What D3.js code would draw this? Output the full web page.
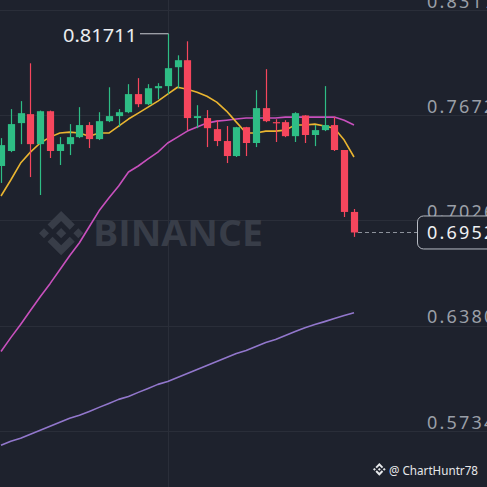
<!DOCTYPE html>
<html><head><meta charset="utf-8">
<script src="https://cdn.jsdelivr.net/npm/d3@7"></script>
<style>html,body{margin:0;padding:0;background:#1e222d;overflow:hidden}</style>
</head><body><svg id="c" width="487" height="487"></svg>
<script>
// ---- data ----
const candles = [0,1,2,3,4,5,6,7,8,9,10,11,12,13,14,15,16,17,18,19,20,21,22,23,24,25,26,27,28,29,30,31,32,33,34,35,36];
const open  = [.7360,.7452,.7623,.7678,.7494,.7696,.7452,.7494,.7537,.7611,.7525,.7635,.7666,.7690,.7801,.7739,.7837,.7850,.7966,.8009,.7654,.7654,.7586,.7513,.7421,.7598,.7501,.7715,.7629,.7629,.7543,.7670,.7550,.7580,.7611,.7458,.7078];
const high  = [.7531,.7709,.7758,.7990,.7700,.7700,.7537,.7617,.7721,.7629,.7690,.7843,.7709,.7862,.7899,.7862,.7868,.81711,.8039,.8125,.7733,.7703,.7641,.7605,.7600,.7600,.7825,.7954,.7647,.7641,.7690,.7672,.7611,.7850,.7660,.7458,.7096];
const low   = [.7256,.7445,.7494,.7292,.7182,.7409,.7366,.7427,.7531,.7470,.7519,.7629,.7599,.7684,.7721,.7733,.7770,.7801,.7837,.7580,.7592,.7476,.7482,.7378,.7415,.7421,.7476,.7629,.7507,.7537,.7507,.7501,.7482,.7574,.7452,.7047,.6925];
const close = [.7488,.7617,.7684,.7494,.7696,.7452,.7494,.7537,.7611,.7525,.7635,.7666,.7690,.7801,.7739,.7837,.7850,.7960,.8009,.7654,.7666,.7592,.7513,.7421,.7598,.7501,.7715,.7635,.7623,.7543,.7684,.7550,.7580,.7611,.7458,.7078,.6952];
const ma7   = [.7176,.7274,.7378,.7445,.7501,.7537,.7562,.7568,.7562,.7543,.7562,.7562,.7605,.7648,.7684,.7721,.7758,.7801,.7843,.7831,.7813,.7788,.7752,.7697,.7629,.7562,.7562,.7574,.7574,.7580,.7611,.7611,.7617,.7605,.7592,.7519,.7415];
const ma25  = [.6222,.6307,.6387,.6473,.6558,.6638,.6723,.6809,.6889,.6987,.7085,.7164,.7237,.7323,.7360,.7403,.7445,.7501,.7537,.7574,.7599,.7623,.7635,.7641,.7648,.7654,.7654,.7654,.7654,.7660,.7660,.7660,.7660,.7660,.7660,.7641,.7611];
const ma99  = [.5646,.5671,.5689,.5714,.5738,.5763,.5787,.5812,.5830,.5854,.5879,.5903,.5928,.5946,.5971,.5995,.6020,.6038,.6062,.6087,.6111,.6136,.6160,.6185,.6209,.6228,.6252,.6277,.6295,.6320,.6344,.6368,.6387,.6405,.6424,.6442,.6460];
const tickValues = [0.8317, 0.7672, 0.7026, 0.6380, 0.5734];
const highLabel = "0.81711";
const lastPrice = 0.6952;
const gridCandle = 17;
const watermark = "BINANCE";
const credit = "@ ChartHuntr78";

// ---- chart ----
const W = 487, H = 487;
const svg = d3.select("#c");
const bg = "#1e222d", grid = "#2a2e39";
const up = "#2ebd85", down = "#f6465d";
svg.append("rect").attr("width", W).attr("height", H).attr("fill", bg);

const x = d3.scaleLinear().domain([0, 36]).range([1, 354]);
const y = d3.scaleLinear().domain([0.8317, 0.5734]).range([10, 431]);

// grid
svg.append("g").selectAll("line").data(tickValues).join("line")
  .attr("x1", 0).attr("x2", W).attr("y1", d => Math.round(y(d)) + 0.5).attr("y2", d => Math.round(y(d)) + 0.5)
  .attr("stroke", grid).attr("stroke-width", 1);
svg.append("line").attr("x1", Math.round(x(gridCandle)) + 0.5).attr("x2", Math.round(x(gridCandle)) + 0.5)
  .attr("y1", 0).attr("y2", H).attr("stroke", grid);

// watermark
const logoPaths = ["M38.73,53.2,63.3,28.63,87.89,53.22l14.3-14.3L63.3,0,24.43,38.9Z",
 "M0,63.31l14.3-14.3,14.3,14.3L14.3,77.61Z",
 "M38.73,73.41,63.3,98,87.89,73.4l14.3,14.29,0,0L63.3,126.61,24.42,87.74l0,0Z",
 "M98,63.31l14.3-14.3,14.3,14.3-14.3,14.3Z",
 "M77.83,63.3h0L63.3,48.76,52.55,59.5h0l-1.24,1.24-2.54,2.55,0,0,0,0L63.3,77.83,77.83,63.3h0Z"];
const logo = svg.append("g").attr("transform", "translate(39,211) scale(0.35)").attr("fill", "#383d48");
logoPaths.forEach(p => logo.append("path").attr("d", p));
svg.append("text").attr("x", 93).attr("y", 246).text(watermark)
  .attr("font-family", "Open Sans, sans-serif").attr("font-weight", 700).attr("font-size", 35)
  .attr("textLength", 170).attr("lengthAdjust", "spacingAndGlyphs").attr("fill", "#383d48");

// MA lines
const line = d3.line().x((d, i) => x(i)).y(d => y(d));
[[ma99, "#9277cc"], [ma25, "#c850bd"], [ma7, "#eab530"]].forEach(([s, c]) => {
  svg.append("path").attr("d", line(s)).attr("fill", "none").attr("stroke", c).attr("stroke-width", 1.6)
    .attr("stroke-linejoin", "round");
});

// candles
const cg = svg.append("g");
cg.selectAll("line").data(candles).join("line")
  .attr("x1", i => Math.round(x(i)) + 0.5).attr("x2", i => Math.round(x(i)) + 0.5)
  .attr("y1", i => y(high[i])).attr("y2", i => y(low[i]))
  .attr("stroke", i => close[i] >= open[i] ? up : down).attr("stroke-width", 1.2);
cg.selectAll("rect").data(candles).join("rect")
  .attr("x", i => Math.round(x(i)) + 0.5 - 3.6).attr("width", 7.2)
  .attr("y", i => y(Math.max(open[i], close[i])))
  .attr("height", i => Math.max(1.2, Math.abs(y(open[i]) - y(close[i]))))
  .attr("fill", i => close[i] >= open[i] ? up : down);

// high annotation
const hx = Math.round(x(gridCandle)) + 0.5, hy = y(high[gridCandle]);
svg.append("line").attr("x1", 140).attr("x2", hx).attr("y1", hy).attr("y2", hy)
  .attr("stroke", "#c9ccd1").attr("stroke-width", 1);
svg.append("text").attr("x", 63).attr("y", 42).text(highLabel)
  .attr("font-family", "Noto Sans, sans-serif").attr("font-size", 18.5)
  .attr("textLength", 74).attr("lengthAdjust", "spacingAndGlyphs").attr("fill", "#eaecef");

// right axis
const axis = d3.axisRight(y).tickValues(tickValues).tickSize(0).tickPadding(0).tickFormat(d3.format(".4f"));
const ag = svg.append("g").attr("transform", "translate(427,0)").call(axis);
ag.select(".domain").remove();
ag.selectAll("text").attr("y", -3).attr("dy", 0)
  .attr("font-family", "Noto Sans, sans-serif").attr("font-size", 18).attr("letter-spacing", 2.2)
  .attr("fill", "#9a9fa7");

// last price line + label
const ly = y(lastPrice);
svg.append("line").attr("x1", x(36) + 4).attr("x2", 417).attr("y1", Math.round(ly) + 0.5).attr("y2", Math.round(ly) + 0.5)
  .attr("stroke", "#8d929b").attr("stroke-dasharray", "4,3");
svg.append("rect").attr("x", 417.5).attr("y", ly - 16.5).attr("width", 90).attr("height", 33)
  .attr("rx", 6).attr("fill", bg).attr("stroke", "#b8bcc4").attr("stroke-width", 1);
svg.append("text").attr("x", 427).attr("y", ly + 6.5).text(d3.format(".4f")(lastPrice))
  .attr("font-family", "Noto Sans, sans-serif").attr("font-size", 18).attr("letter-spacing", 2.2)
  .attr("fill", "#f0f1f3");

// credit
const sl = svg.append("g").attr("transform", "translate(373,463) scale(0.1)").attr("fill", "#e6e8ea");
logoPaths.forEach(p => sl.append("path").attr("d", p));
svg.append("text").attr("x", 389).attr("y", 475).text(credit)
  .attr("font-family", "Noto Sans, sans-serif").attr("font-size", 12.5)
  .attr("textLength", 89).attr("lengthAdjust", "spacingAndGlyphs").attr("fill", "#e6e8ea");
</script></body></html>
